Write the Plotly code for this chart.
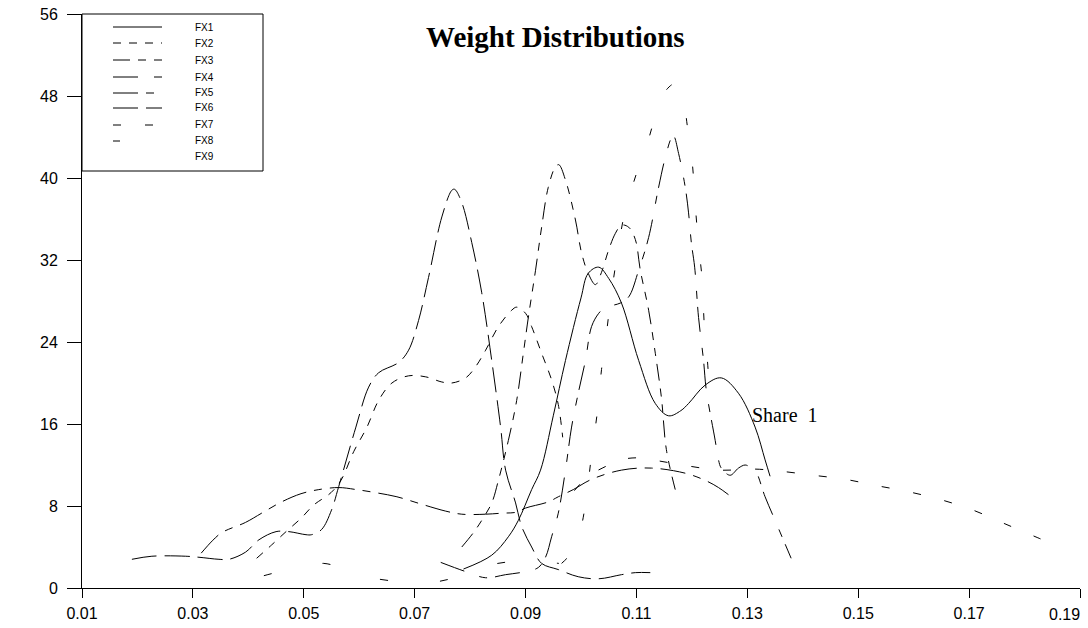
import plotly.graph_objects as go

# ---------------- data ----------------
x_ticks = [0.01, 0.03, 0.05, 0.07, 0.09, 0.11, 0.13, 0.15, 0.17, 0.19]
x_tick_labels = ["0.01", "0.03", "0.05", "0.07", "0.09", "0.11", "0.13", "0.15", "0.17", "0.19"]
y_ticks = [0, 8, 16, 24, 32, 40, 48, 56]
y_tick_labels = ["0", "8", "16", "24", "32", "40", "48", "56"]

series_names = ["FX1", "FX2", "FX3", "FX4", "FX5", "FX6", "FX7", "FX8", "FX9"]

fx1_x = [0.0788, 0.0839, 0.0869, 0.0887, 0.0911, 0.0927, 0.0950, 0.0972, 0.1000, 0.1013, 0.1032,
         0.1050, 0.1073, 0.1104, 0.1134, 0.1158, 0.1180, 0.1194, 0.1224, 0.1253, 0.1284, 0.1314,
         0.1332, 0.1341]
fx1_y = [1.85, 3.2, 5.0, 6.6, 9.6, 11.5, 16.8, 22.2, 28.3, 30.7, 31.3,
         30.2, 27.8, 22.2, 18.0, 16.8, 17.3, 18.0, 19.8, 20.5, 19.0, 15.7,
         12.5, 10.9]

fx2_x = [0.0415, 0.0442, 0.0468, 0.0495, 0.0518, 0.0549, 0.0567, 0.0590, 0.0614, 0.0635, 0.0659,
         0.0689, 0.0720, 0.0749, 0.0767, 0.0792, 0.0810, 0.0828, 0.0851, 0.0875, 0.0884, 0.0900,
         0.0911, 0.0929, 0.0947, 0.0959, 0.0967]
fx2_y = [2.9, 4.2, 5.5, 6.8, 8.1, 9.3, 10.5, 13.3, 15.7, 18.3, 20.0,
         20.7, 20.6, 20.1, 20.0, 20.5, 21.6, 23.2, 25.5, 27.1, 27.4, 26.8,
         25.5, 22.9, 20.3, 17.9, 14.7]

fx3_x = [0.0785, 0.0806, 0.0821, 0.0839, 0.0851, 0.0869, 0.0884, 0.0896, 0.0905, 0.0918, 0.0929,
         0.0941, 0.0954, 0.0960, 0.0972, 0.0990, 0.1001, 0.1013, 0.1026, 0.1037, 0.1050, 0.1062,
         0.1073, 0.1086, 0.1098, 0.1107, 0.1122, 0.1134, 0.1145, 0.1154, 0.1170]
fx3_y = [4.0, 5.4, 6.6, 8.3, 10.5, 14.4, 18.3, 22.9, 26.4, 31.0, 35.2,
         39.1, 41.1, 41.3, 39.8, 35.9, 32.7, 30.7, 29.6, 30.8, 33.0, 34.6,
         35.4, 35.2, 34.0, 31.0, 27.1, 22.9, 18.6, 13.5, 9.6]

fx4_x = [0.0747, 0.0792, 0.0828, 0.0864, 0.0900, 0.0923, 0.0936, 0.0947, 0.0959, 0.0972, 0.0983,
         0.0995, 0.1008, 0.1019, 0.1032, 0.1044, 0.1059, 0.1071, 0.1086, 0.1104, 0.1122, 0.1140,
         0.1152, 0.1163, 0.1167, 0.1176, 0.1188, 0.1194, 0.1199, 0.1205, 0.1212, 0.1221, 0.1226,
         0.1242, 0.1248, 0.1253, 0.1269, 0.1284, 0.1296, 0.1305, 0.1314, 0.1332, 0.1350, 0.1379]
fx4_y = [2.5, 1.6, 1.0, 1.3, 1.6, 2.0, 3.0, 5.0, 7.3, 11.5, 15.7,
         19.0, 22.2, 25.5, 26.8, 27.4, 27.6, 27.8, 28.4, 31.0, 34.2, 39.1,
         42.0, 43.9, 44.1, 42.4, 39.1, 36.6, 33.7, 31.3, 26.4, 22.2, 19.3,
         14.4, 12.5, 11.7, 11.0, 11.7, 12.0, 11.8, 11.5, 8.9, 6.6, 2.9]

fx5_x = [0.0315, 0.0335, 0.0352, 0.0395, 0.0424, 0.0460, 0.0495, 0.0527, 0.0563, 0.0595, 0.0630,
         0.0668, 0.0711, 0.0756, 0.0785, 0.0828, 0.0857, 0.0884, 0.0900, 0.0941, 0.0959, 0.0986,
         0.1019, 0.1073, 0.1127, 0.1188, 0.1224, 0.1248, 0.1278]
fx5_y = [3.4, 4.6, 5.4, 6.4, 7.3, 8.4, 9.2, 9.6, 9.8, 9.6, 9.3,
         8.9, 8.2, 7.5, 7.2, 7.2, 7.3, 7.4, 7.8, 8.4, 8.9, 9.6,
         10.6, 11.5, 11.7, 11.2, 10.5, 9.8, 8.6]

fx6_x = [0.0190, 0.0226, 0.0287, 0.0311, 0.0347, 0.0365, 0.0395, 0.0419, 0.0450, 0.0473, 0.0504,
         0.0514, 0.0532, 0.0550, 0.0563, 0.0594, 0.0617, 0.0635, 0.0671, 0.0689, 0.0707, 0.0725,
         0.0749, 0.0767, 0.0772, 0.0785, 0.0803, 0.0821, 0.0839, 0.0855, 0.0864, 0.0882, 0.0893,
         0.0911, 0.0929, 0.0959, 0.0995, 0.1032, 0.1073, 0.1098, 0.1125]
fx6_y = [2.8, 3.1, 3.1, 3.0, 2.8, 2.8, 3.5, 4.7, 5.5, 5.5, 5.2,
         5.2, 5.7, 7.6, 9.9, 15.7, 19.6, 21.0, 22.0, 23.2, 26.1, 30.3,
         36.2, 38.8, 38.9, 37.6, 33.7, 28.8, 22.2, 15.7, 11.5, 8.3, 6.0,
         4.0, 2.4, 1.8, 1.1, 0.9, 1.3, 1.5, 1.5]

fx7_x = [0.0988, 0.1013, 0.1046, 0.1071, 0.1104, 0.1140, 0.1194, 0.1251, 0.1314, 0.1359, 0.1419,
         0.1477, 0.1532, 0.1590, 0.1650, 0.1707, 0.1763, 0.1824, 0.1855]
fx7_y = [9.5, 10.9, 11.9, 12.5, 12.7, 12.4, 11.9, 11.5, 11.6, 11.4, 11.0,
         10.6, 10.0, 9.4, 8.6, 7.6, 6.3, 4.9, 4.2]

fx8_x = [0.0965, 0.0985, 0.1001, 0.1021, 0.1030, 0.1037, 0.1046, 0.1055, 0.1066, 0.1078, 0.1098,
         0.1123, 0.1145, 0.1168, 0.1179, 0.1192, 0.1201, 0.1206, 0.1212, 0.1219, 0.1222, 0.1228,
         0.1233]
fx8_y = [2.4, 3.6, 6.1, 13.8, 17.4, 21.3, 24.9, 28.8, 32.7, 36.4, 40.1,
         44.0, 47.9, 49.2, 48.9, 45.0, 41.3, 37.4, 33.5, 29.8, 26.0, 22.2,
         18.3]

fx9_x = [0.0428, 0.0480, 0.0536, 0.0580, 0.0622, 0.0680, 0.0738, 0.0790, 0.0850, 0.0910, 0.0960]
fx9_y = [1.2, 1.9, 2.4, 1.7, 1.0, 0.6, 0.6, 1.3, 2.4, 2.6, 2.4]

series_x = [fx1_x, fx2_x, fx3_x, fx4_x, fx5_x, fx6_x, fx7_x, fx8_x, fx9_x]
series_y = [fx1_y, fx2_y, fx3_y, fx4_y, fx5_y, fx6_y, fx7_y, fx8_y, fx9_y]

title_text = "Weight Distributions"
note_text = "Share\u00a0\u00a01"
note_x, note_y = 0.1305, 16.9

# ---------------- styles ----------------
dashes = ["solid", "8px,8px", "17px,8px,8px,8px,8px,8px", "25px,16px,8px,8px",
          "25px,8px,8px,8px", "25px,8px", "8px,24px", "7px,42px", "8px,52px"]

W, H = 1088, 628
L, R, T, B = 82, 1080, 14, 588
TICK_FONT = dict(family="Liberation Sans, Arial", size=16, color="black")


def pxx(p):
    return (p - L) / (R - L)


def pxy(p):
    return (B - p) / (B - T)


fig = go.Figure()
for name, xs, ys, d in zip(series_names, series_x, series_y, dashes):
    fig.add_trace(go.Scatter(x=xs, y=ys, mode="lines", name=name, showlegend=False,
                             line=dict(color="black", width=1, dash=d, shape="spline",
                                       smoothing=1.0),
                             hoverinfo="skip"))

shapes = []
annotations = []
# legend box
shapes.append(dict(type="rect", xref="paper", yref="paper", x0=pxx(82), x1=pxx(263),
                   y0=pxy(171), y1=pxy(14), line=dict(color="black", width=1),
                   fillcolor="rgba(0,0,0,0)", layer="above"))
row_y = [27, 43, 60, 77, 93, 108, 125, 141, 157]
for name, d, ry in zip(series_names, dashes, row_y):
    if name != "FX9":
        shapes.append(dict(type="line", xref="paper", yref="paper", x0=pxx(113), x1=pxx(162),
                           y0=pxy(ry), y1=pxy(ry), line=dict(color="black", width=1, dash=d)))
    annotations.append(dict(xref="paper", yref="paper", x=pxx(193), y=pxy(ry), text=name,
                            showarrow=False, xanchor="left", yanchor="middle",
                            font=dict(family="Liberation Sans, Arial", size=10, color="black")))

annotations.append(dict(xref="paper", yref="paper", x=pxx(555), y=pxy(37),
                        text="<b>" + title_text + "</b>", showarrow=False,
                        xanchor="center", yanchor="middle",
                        font=dict(family="Liberation Serif, Times New Roman", size=29, color="black")))
annotations.append(dict(xref="x", yref="y", x=note_x, y=note_y, text=note_text, showarrow=False,
                        xanchor="left", yanchor="middle",
                        font=dict(family="Liberation Serif, Times New Roman", size=20, color="black")))
# last x tick label sits left of its tick (as in the reference) so it stays inside the page
annotations.append(dict(xref="x", yref="paper", x=x_ticks[-1], y=0, text=x_tick_labels[-1],
                        showarrow=False, xanchor="right", yanchor="top", xshift=2, yshift=-16,
                        font=TICK_FONT))
shown_labels = x_tick_labels[:-1] + [""]

fig.update_layout(
    width=W, height=H,
    margin=dict(l=L, r=W - R, t=T, b=H - B, pad=0),
    paper_bgcolor="white", plot_bgcolor="white",
    showlegend=False,
    shapes=shapes, annotations=annotations,
    xaxis=dict(range=[0.01, 0.19], tickvals=x_ticks, ticktext=shown_labels,
               ticks="outside", ticklen=9, tickwidth=1, tickcolor="black",
               showline=True, linecolor="black", linewidth=1, showgrid=False,
               zeroline=False, automargin=False, ticklabelstandoff=2,
               tickfont=TICK_FONT),
    yaxis=dict(range=[0, 56], tickvals=y_ticks, ticktext=y_tick_labels,
               ticks="outside", ticklen=14, tickwidth=1, tickcolor="black",
               showline=True, linecolor="black", linewidth=1, showgrid=False,
               zeroline=False, automargin=False, ticklabelstandoff=6,
               ticklabeloverflow="allow",
               tickfont=TICK_FONT),
)

fig.write_html("out.html", config={"displayModeBar": False, "staticPlot": True},
               post_script="document.body.style.margin='0';document.body.style.overflow='hidden';")
